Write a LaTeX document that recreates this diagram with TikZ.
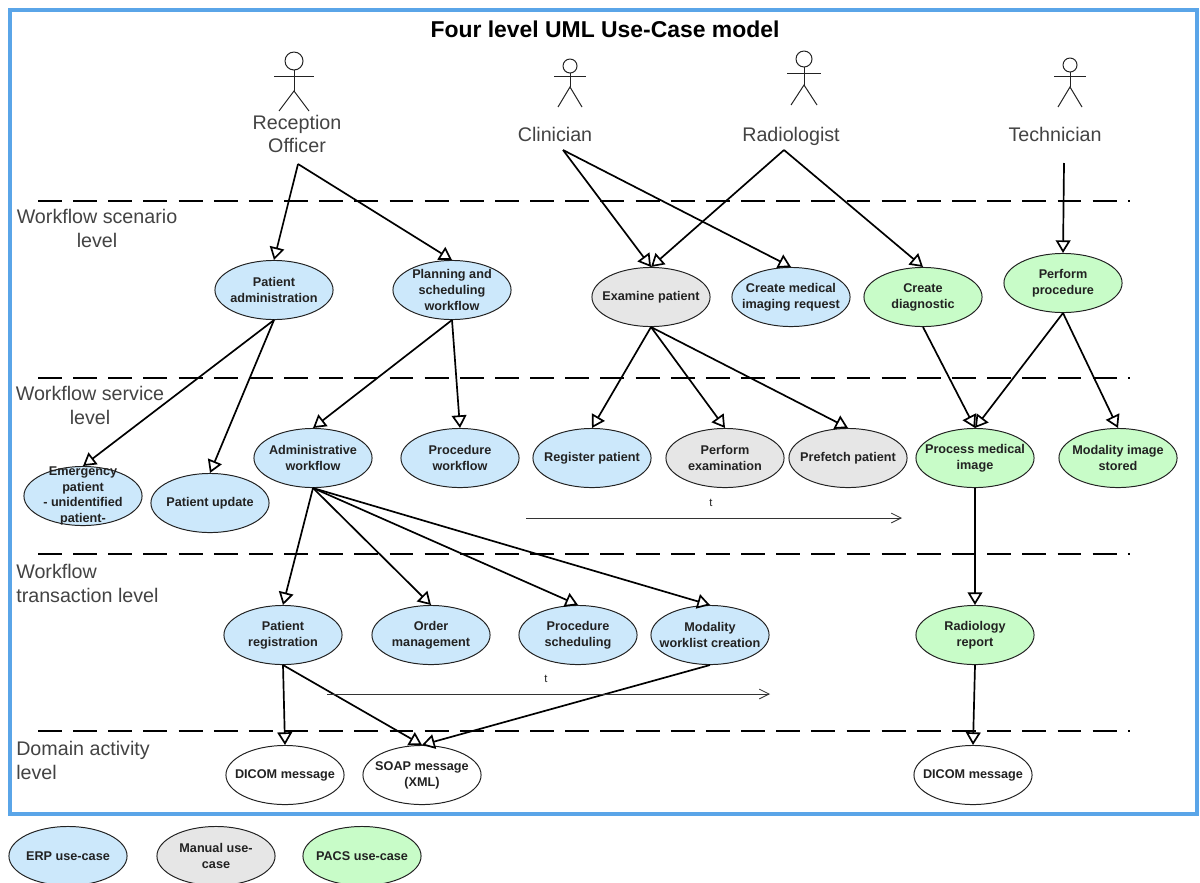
\documentclass[tikz,border=0pt]{standalone}
\usepackage{fontspec}
\setmainfont{Liberation Sans}
\usetikzlibrary{arrows.meta,shapes.geometric}
\definecolor{erpc}{HTML}{CCE8FB}
\definecolor{manc}{HTML}{E6E6E6}
\definecolor{pacc}{HTML}{C8FCC8}
\definecolor{framec}{HTML}{5AA5E8}
\definecolor{inkc}{HTML}{222222}
\tikzset{
  uc/.style={ellipse,draw=inkc,line width=0.7pt,minimum width=84pt,minimum height=42pt,inner sep=-30pt,
    align=center,font=\fontsize{9}{11.3}\selectfont\bfseries,text=inkc},
  erp/.style={uc,fill=erpc},
  man/.style={uc,fill=manc},
  pac/.style={uc,fill=pacc},
  msg/.style={uc,fill=white},
  lvl/.style={align=left,anchor=north west,inner sep=0pt,font=\fontsize{14}{17}\selectfont,text=inkc!85!white},
  lvlc/.style={lvl,align=center,anchor=north},
  actorname/.style={align=center,inner sep=0pt,font=\fontsize{14}{17}\selectfont,text=inkc!85!white},
  conn/.style={draw=black,line width=1.2pt,-{Triangle[length=9pt,width=10.5pt,fill=white]}},
  sep/.style={draw=black,line width=1.3pt,dash pattern=on 17pt off 8pt},
  timeline/.style={draw=black!80,line width=0.6pt,-{Straight Barb[length=7pt,width=7pt]}},
  stick/.style={draw=inkc,line width=0.7pt},
  tlabel/.style={inner sep=0pt,font=\fontsize{8}{10}\selectfont,text=inkc}
}
\newcommand{\stickman}[7]{% cx, head y, head r, arm half, arm y, hip y, foot half
  \draw[stick] (#1,#2) circle[radius=#3];
  \draw[stick] (#1-#4,#5) -- (#1+#4,#5);
  \draw[stick] (#1,#2+#3) -- (#1,#6);
  \draw[stick] (#1-#7,#6+20) -- (#1,#6) -- (#1+#7,#6+20);
}
\begin{document}
\begin{tikzpicture}[x=0.025cm,y=-0.025cm]
\useasboundingbox (0,0) rectangle (1200,882);
\fill[white] (0,0) rectangle (1200,882);
\draw[framec,line width=2.4pt] (10,10) rectangle (1197,814);
\node[inner sep=0pt,font=\fontsize{16.3}{19}\selectfont\bfseries,text=black] (title) at (605,29) {Four level UML Use-Case model};

% separators
\coordinate (s1a) at (38,201); \coordinate (s1b) at (1130,201);
\coordinate (s2a) at (38,378); \coordinate (s2b) at (1130,378);
\coordinate (s3a) at (38,554); \coordinate (s3b) at (1130,554);
\coordinate (s4a) at (38,731); \coordinate (s4b) at (1130,731);
\draw[sep] (s1a) -- (s1b);
\draw[sep] (s2a) -- (s2b);
\draw[sep] (s3a) -- (s3b);
\draw[sep] (s4a) -- (s4b);

% level labels
\node[lvlc] (l1) at (97,209) {Workflow scenario\\level};
\node[lvlc] (l2) at (90,386) {Workflow service\\level};
\node[lvl] (l3) at (16,564) {Workflow\\transaction level};
\node[lvl] (l4) at (16,741) {Domain activity\\level};

% actors
\stickman{294}{61}{9}{20}{76}{91}{15}
\stickman{570}{66}{7}{16}{76}{87}{12}
\stickman{804}{59}{8}{17}{73}{85}{13}
\stickman{1070}{65}{7}{16}{76}{87}{12}
\node[actorname] (ro) at (297,134) {Reception\\Officer};
\node[actorname] (cl) at (555,134) {Clinician};
\node[actorname] (ra) at (791,136) {Radiologist};
\node[actorname] (te) at (1055,134) {Technician};
\coordinate (rosrc) at (298,164);
\coordinate (clsrc) at (563,150);
\coordinate (rasrc) at (784,150);
\coordinate (tesrc) at (1064,163);

% use cases
\node[erp] (padm) at (274,290) {Patient\\administration};
\node[erp] (plan) at (452,290) {Planning and\\scheduling\\workflow};
\node[man] (exam) at (651,297) {Examine patient};
\node[erp] (crmi) at (791,297) {Create medical\\imaging request};
\node[pac] (crdg) at (923,297) {Create\\diagnostic};
\node[pac] (pfpr) at (1063,283) {Perform\\procedure};

\node[erp] (emer) at (83,496) {Emergency\\patient\\- unidentified\\patient-};
\node[erp] (pupd) at (210,503) {Patient update};
\node[erp] (admw) at (313,458) {Administrative\\workflow};
\node[erp] (prow) at (460,458) {Procedure\\workflow};
\node[erp] (regp) at (592,458) {Register patient};
\node[man] (pexa) at (725,458) {Perform\\examination};
\node[man] (pref) at (848,458) {Prefetch patient};
\node[pac] (prmi) at (975,458) {Process medical\\image};
\node[pac] (mods) at (1118,458) {Modality image\\stored};

\node[erp] (preg) at (283,635) {Patient\\registration};
\node[erp] (ordm) at (431,635) {Order\\management};
\node[erp] (pros) at (578,635) {Procedure\\scheduling};
\node[erp] (modw) at (710,635) {Modality\\worklist creation};
\node[pac] (radr) at (975,635) {Radiology\\report};

\node[msg] (dic1) at (285,775) {DICOM message};
\node[msg] (soap) at (422,775) {SOAP message\\(XML)};
\node[msg] (dic2) at (973,775) {DICOM message};

% legend
\node[erp] (lerp) at (68,856) {ERP use-case};
\node[man] (lman) at (216,856) {Manual use-\\case};
\node[pac] (lpac) at (362,856) {PACS use-case};

% connectors
\draw[conn] (rosrc) -- (padm.north);
\draw[conn] (rosrc) -- (plan.north);
\draw[conn] (clsrc) -- (exam.north);
\draw[conn] (clsrc) -- (crmi.north);
\draw[conn] (rasrc) -- (exam.north);
\draw[conn] (rasrc) -- (crdg.north);
\draw[conn] (tesrc) -- (pfpr.north);
\draw[conn] (padm.south) -- (emer.north);
\draw[conn] (padm.south) -- (pupd.north);
\draw[conn] (plan.south) -- (admw.north);
\draw[conn] (plan.south) -- (prow.north);
\draw[conn] (exam.south) -- (regp.north);
\draw[conn] (exam.south) -- (pexa.north);
\draw[conn] (exam.south) -- (pref.north);
\draw[conn] (crdg.south) -- (prmi.north);
\draw[conn] (pfpr.south) -- (prmi.north);
\draw[conn] (pfpr.south) -- (mods.north);
\draw[conn] (prmi.south) -- (radr.north);
\draw[conn] (radr.south) -- (dic2.north);
\draw[conn] (admw.south) -- (preg.north);
\draw[conn] (admw.south) -- (ordm.north);
\draw[conn] (admw.south) -- (pros.north);
\draw[conn] (admw.south) -- (modw.north);
\draw[conn] (preg.south) -- (dic1.north);
\draw[conn] (preg.south) -- (soap.north);
\draw[conn] (modw.south) -- (soap.north);

% time arrows
\coordinate (t1a) at (526,518); \coordinate (t1b) at (902,518);
\coordinate (t2a) at (327,694); \coordinate (t2b) at (770,694);
\draw[timeline] (t1a) -- (t1b);
\draw[timeline] (t2a) -- (t2b);
\node[tlabel] (t1) at (711,503) {t};
\node[tlabel] (t2) at (546,679) {t};
\end{tikzpicture}
\end{document}
